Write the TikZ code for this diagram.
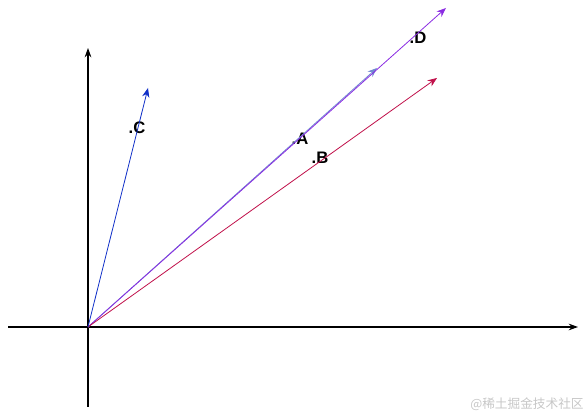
\documentclass[tikz,border=0pt]{standalone}
\usepackage{fontspec}
\setmainfont{Liberation Sans}
\newfontfamily\cjk{Noto Sans CJK SC}
\usetikzlibrary{arrows.meta}

\definecolor{vecA}{HTML}{7088D0}
\definecolor{vecB}{HTML}{C0104A}
\definecolor{vecC}{HTML}{1030C8}
\definecolor{vecD}{HTML}{8A2BE2}

\tikzset{
  axis/.style={thick, -{Stealth[length=7pt, width=5pt]}},
  vec/.style={line width=0.6pt, -{Stealth[length=7pt, width=5.5pt]}},
  lbl/.style={font=\bfseries\fontsize{12.5}{13}\selectfont, inner sep=0pt}
}

\begin{document}
\begin{tikzpicture}[x=0.75pt, y=0.75pt]
  \useasboundingbox (0,0) rectangle (586,416);

  % Define nodes
  \coordinate (O) at (88, 89);
  \coordinate (xl) at (8, 89);
  \coordinate (xr) at (578, 89);
  \coordinate (yb) at (88, 9);
  \coordinate (yt) at (88, 368);
  \coordinate (A) at (377, 348);
  \coordinate (B) at (437, 338);
  \coordinate (C) at (148, 328);
  \coordinate (D) at (446, 408);

  \node[lbl] (labA) at (300, 277) {.A};
  \node[lbl] (labB) at (320, 258) {.B};
  \node[lbl] (labC) at (137, 288) {.C};
  \node[lbl] (labD) at (418, 378) {.D};
  \node[text=black!22, font=\cjk\fontsize{9.5}{10}\selectfont, inner sep=0pt] (mark) at (527, 12) {@稀土掘金技术社区};

  % Define edges
  \draw[axis] (xl) -- (xr);
  \draw[axis] (yb) -- (yt);
  \draw[vec, vecA] (O) -- (A);
  \draw[vec, vecD] (O) -- (D);
  \draw[vec, vecB] (O) -- (B);
  \draw[vec, vecC] (O) -- (C);
\end{tikzpicture}
\end{document}
